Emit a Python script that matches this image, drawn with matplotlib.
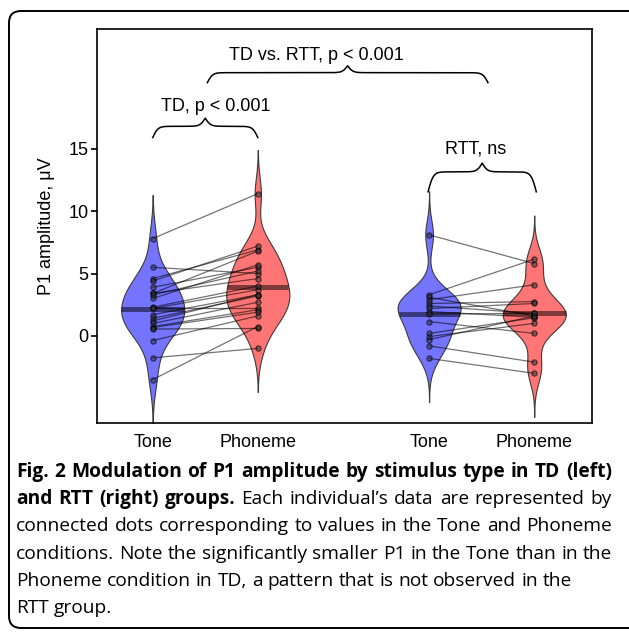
import numpy as np
import matplotlib
matplotlib.use("Agg")
import matplotlib.pyplot as plt
from matplotlib.patches import FancyBboxPatch

# ---- data ----
conditions = ["Tone", "Phoneme", "Tone", "Phoneme"]
positions = [0.0, 1.0, 2.63, 3.63]

# TD group, paired per subject (Tone -> Phoneme)
td_tone = [7.8, 5.5, 4.6, 4.4, 3.9, 3.4, 3.4, 3.3, 3.0, 2.3, 2.2,
           2.2, 1.7, 1.4, 1.2, 1.0, 0.75, 0.67, 0.55, -0.37, -1.76, -3.5]
td_phoneme = [11.4, 5.0, 6.9, 7.2, 5.5, 6.8, 4.6, 5.2, 5.7, 4.0, 3.7,
              2.2, 3.3, 3.2, 3.3, 2.7, 2.1, 1.9, 0.6, 1.6, -1.0, 0.75]

# RTT group, paired per subject
rtt_tone = [8.1, 3.3, 3.1, 2.9, 2.6, 2.4, 2.2, 1.95, 1.76, 1.15,
            0.2, -0.05, -0.3, -0.8, -1.8]
rtt_phoneme = [5.8, 6.15, 1.6, 4.1, 2.75, 1.8, 2.6, 1.5, 1.8, 0.2,
               1.45, 1.0, 1.6, -2.1, -3.0]

ytick_values = [0, 5, 10, 15]

# comparison braces: (x start, x end, y base, end height, tip height, label, label x, label y)
brace_specs = [
    (0.0, 1.0, 15.9, 0.9, 0.65, "TD, p < 0.001", 0.6, 18.4),
    (0.52, 3.19, 20.3, 0.8, 0.55, "TD vs. RTT, p < 0.001", 1.56, 22.5),
    (2.62, 3.65, 11.55, 1.6, 0.7, "RTT, ns", 3.07, 15.0),
]

caption_lines = [
    [("Fig. 2 Modulation of P1 amplitude by stimulus type in TD (left)", "bold")],
    [("and RTT (right) groups.", "bold"),
     ("Each individual\u2019s data are represented by", "normal")],
    [("connected dots corresponding to values in the Tone and Phoneme", "normal")],
    [("conditions. Note the significantly smaller P1 in the Tone than in the", "normal")],
    [("Phoneme condition in TD, a pattern that is not observed in the", "normal")],
    [("RTT group.", "normal")],
]
justified = [True, True, True, True, False, False]

BLUE = "#7474ff"
RED = "#ff7474"
BANDWIDTHS = [1.35, 1.3, 1.15, 1.15]
CUT = 3.5
HALF_W = 0.3
FS = 13

plt.rcParams["font.family"] = ["Liberation Sans", "DejaVu Sans"]

W_PX, H_PX = 629, 634
fig = plt.figure(figsize=(W_PX / 100, H_PX / 100), dpi=100)
ax = fig.add_axes([97 / W_PX, 1 - 423 / H_PX, (592 - 97) / W_PX, (423 - 29) / H_PX])


def draw_violin(ax, pos, vals, color, bw):
    vals = np.asarray(vals, dtype=float)
    grid = np.linspace(vals.min() - CUT, vals.max() + CUT, 500)
    dens = np.exp(-0.5 * ((grid[:, None] - vals[None, :]) / bw) ** 2).sum(axis=1)
    dens = dens / dens.max() * HALF_W
    ax.fill_betweenx(grid, pos - dens, pos + dens, facecolor=color,
                     edgecolor="#3c3c3c", lw=0.8, zorder=1)
    m = vals.mean()
    w = np.interp(m, grid, dens)
    ax.plot([pos - w, pos + w], [m, m], color="black", alpha=0.5, lw=3.6,
            solid_capstyle="butt", zorder=2)


def draw_pairs(ax, p0, p1, a, b):
    for ya, yb in zip(a, b):
        ax.plot([p0, p1], [ya, yb], color="black", alpha=0.55, lw=0.9, zorder=3)
    for p, vals in ((p0, a), (p1, b)):
        ax.plot([p] * len(vals), vals, ls="none", marker="o", ms=3.8,
                mfc=(0.2, 0.2, 0.2, 0.5), mec=(0, 0, 0, 0.7), mew=0.7, zorder=4)


def draw_brace(ax, x0, x1, y, h_end, h_tip, beta=40):
    xs = np.linspace(x0, x1, 601)
    mid = (x0 + x1) / 2
    d_end = np.minimum(xs - x0, x1 - xs)
    d_mid = np.abs(xs - mid)
    s_end = 2 / (1 + np.exp(-beta * d_end)) - 1
    s_tip = 2 / (1 + np.exp(beta * d_mid))
    ax.plot(xs, y + h_end * s_end + h_tip * s_tip, color="black", lw=1.1,
            clip_on=False, zorder=5)


groups = [td_tone, td_phoneme, rtt_tone, rtt_phoneme]
colors = [BLUE, RED, BLUE, RED]
for pos, vals, c, bw in zip(positions, groups, colors, BANDWIDTHS):
    draw_violin(ax, pos, vals, c, bw)

draw_pairs(ax, positions[0], positions[1], td_tone, td_phoneme)
draw_pairs(ax, positions[2], positions[3], rtt_tone, rtt_phoneme)

for x0, x1, yb, he, ht, label, lx, ly in brace_specs:
    draw_brace(ax, x0, x1, yb, he, ht)
    ax.text(lx, ly, label, ha="center", va="center", fontsize=FS)

ax.set_xlim(-0.53, 4.18)
ax.set_ylim(-6.98, 24.6)
ax.set_xticks(positions)
ax.set_xticklabels(conditions, fontsize=FS)
ax.set_yticks(ytick_values)
ax.set_yticklabels([str(v) for v in ytick_values], fontsize=FS)
ax.tick_params(axis="x", length=0, pad=8)
ax.tick_params(axis="y", length=4, width=1.2, pad=2)
ax.set_ylabel("P1 amplitude, \u03bcV", fontsize=FS, labelpad=10)
for s in ax.spines.values():
    s.set_linewidth(1.2)

# rounded frame around the panel (open on the right, cut by the image edge)
frame = FancyBboxPatch((0.09, 0.06), 7.0, 6.17,
                       boxstyle="round,pad=0,rounding_size=0.12",
                       transform=fig.dpi_scale_trans, fill=False,
                       edgecolor="black", lw=1.4, clip_on=False)
fig.patches.append(frame)

# caption, justified word by word
renderer = fig.canvas.get_renderer()
cap_font = ["Open Sans", "DejaVu Sans"]
cap_size = 13.8
left_px, right_px = 16, 612
baselines = [477, 504, 531, 559, 586, 613]


def text_width(s, weight):
    t = fig.text(0, 0, s, fontsize=cap_size, family=cap_font, fontweight=weight)
    w = t.get_window_extent(renderer).width
    t.remove()
    return w


space_w = text_width("x x", "normal") - text_width("xx", "normal")
for segs, base, just in zip(caption_lines, baselines, justified):
    words = []
    for s, weight in segs:
        for wd in s.split(" "):
            words.append((wd, weight))
    widths = [text_width(wd, wt) for wd, wt in words]
    if just and len(words) > 1:
        gap = (right_px - left_px - sum(widths)) / (len(words) - 1)
    else:
        gap = space_w
    x = left_px
    for (wd, wt), w in zip(words, widths):
        fig.text(x / W_PX, 1 - base / H_PX, wd, fontsize=cap_size,
                 family=cap_font, fontweight=wt, ha="left", va="baseline")
        x += w + gap

fig.savefig("out.png", dpi=100)
